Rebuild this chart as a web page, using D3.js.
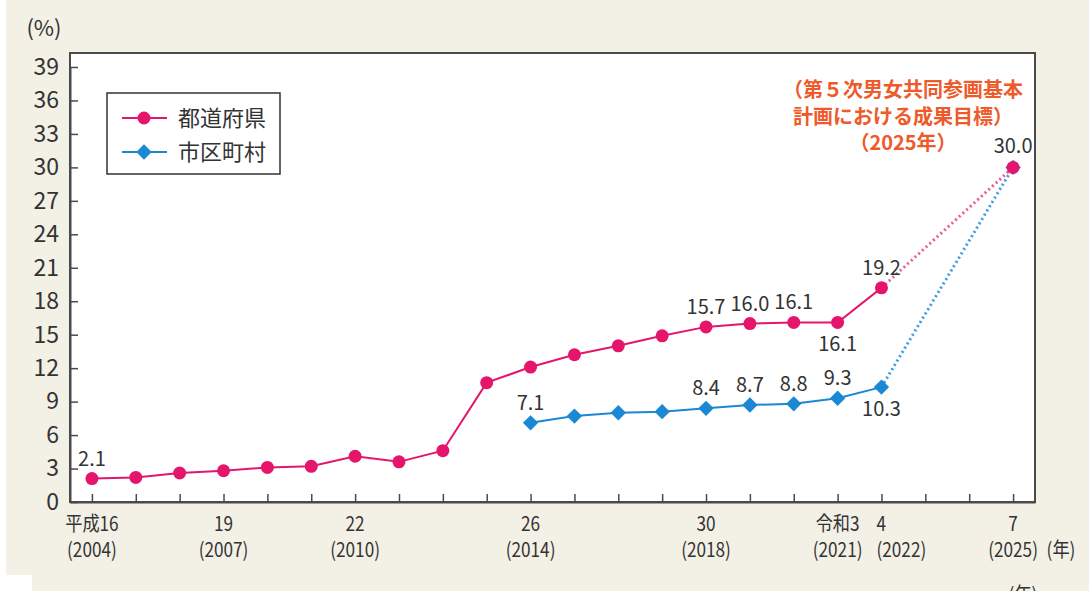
<!DOCTYPE html>
<html>
<head>
<meta charset="utf-8">
<script src="https://cdn.jsdelivr.net/npm/d3@7"></script>
<style>
  html, body { margin: 0; padding: 0; background: #fff; }
  svg { display: block; font-family: "Noto Sans CJK JP", "Noto Sans", sans-serif; }
</style>
</head>
<body>
<div id="chart"></div>
<script>
// prefectures (都道府県)
const prefYears = [2004, 2005, 2006, 2007, 2008, 2009, 2010, 2011, 2012, 2013, 2014, 2015, 2016, 2017, 2018, 2019, 2020, 2021, 2022];
const prefValues = [2.1, 2.2, 2.6, 2.8, 3.1, 3.2, 4.1, 3.6, 4.6, 10.7, 12.1, 13.2, 14.0, 14.9, 15.7, 16.0, 16.1, 16.1, 19.2];

// municipalities (市区町村)
const muniYears = [2014, 2015, 2016, 2017, 2018, 2019, 2020, 2021, 2022];
const muniValues = [7.1, 7.7, 8.0, 8.1, 8.4, 8.7, 8.8, 9.3, 10.3];

// goal
const targetYear = 2025;
const targetValue = 30.0;

const seriesNames = ["都道府県", "市区町村"];
const targetNote = ["（第５次男女共同参画基本", "計画における成果目標）", "（2025年）"];

const yTicks = [0, 3, 6, 9, 12, 15, 18, 21, 24, 27, 30, 33, 36, 39];
const xTickYears = [2004, 2005, 2006, 2007, 2008, 2009, 2010, 2011, 2012, 2013, 2014, 2015, 2016, 2017, 2018, 2019, 2020, 2021, 2022, 2023, 2024, 2025];
const xLabelYears = [2004, 2007, 2010, 2014, 2018, 2021, 2022, 2025];
const xLabelEra = ["平成16", "19", "22", "26", "30", "令和3", "4", "7"];
const xLabelWest = ["(2004)", "(2007)", "(2010)", "(2014)", "(2018)", "(2021)", "(2022)", "(2025)"];

// which points carry a value label
const prefLabelYears = [2004, 2018, 2019, 2020, 2021, 2022];
const muniLabelYears = [2014, 2018, 2019, 2020, 2021, 2022];

const W = 1089, H = 591;
const red = "#e5156c", blue = "#1a88d2", ink = "#333", frame = "#4a4a4a";
const font = '"Noto Sans CJK JP", "Noto Sans", sans-serif';

const svg = d3.select("#chart").append("svg")
    .attr("width", W).attr("height", H);

// page background
svg.append("rect").attr("width", W).attr("height", H).attr("fill", "#fff");
svg.append("rect").attr("x", 6).attr("y", 0).attr("width", W - 6).attr("height", 575).attr("fill", "#f3f0e6");
svg.append("rect").attr("x", 32).attr("y", 575).attr("width", W - 32).attr("height", 16).attr("fill", "#f3f0e6");

const x = d3.scaleLinear().domain([2003.5, 2025.5]).range([70, 1035]);
const y = d3.scaleLinear().domain([0, 39]).range([502, 67]);

// plot frame
svg.append("rect")
    .attr("x", 70).attr("y", 53)
    .attr("width", 1035 - 70).attr("height", 502 - 53)
    .attr("fill", "#fff")
    .attr("stroke", frame).attr("stroke-width", 2);

// y axis
const yAxis = svg.append("g")
    .attr("transform", "translate(70,0)")
    .call(d3.axisLeft(y).tickValues(yTicks).tickSizeInner(-8).tickSizeOuter(0).tickPadding(11))
    .attr("font-family", font).attr("font-size", 23);
yAxis.select(".domain").attr("stroke", frame).attr("stroke-width", 2);
yAxis.selectAll(".tick line").attr("stroke", frame).attr("stroke-width", 1.5);
yAxis.selectAll("text").attr("fill", ink);

// x axis
const xAxis = svg.append("g")
    .attr("transform", "translate(0,502)")
    .call(d3.axisBottom(x).tickValues(xTickYears).tickSizeInner(-8).tickSizeOuter(0).tickFormat(""));
xAxis.select(".domain").attr("stroke", frame).attr("stroke-width", 2);
xAxis.selectAll(".tick line").attr("stroke", frame).attr("stroke-width", 1.5);

// condensed two-line year labels
function narrowText(g, cx, cy, str, anchor) {
    g.append("text")
        .attr("transform", `translate(${cx},${cy}) scale(0.86,1)`)
        .attr("text-anchor", anchor || "middle")
        .text(str);
}
const xl = svg.append("g").attr("fill", ink).style("font-size", "20px");
xLabelYears.forEach((yr, i) => {
    // the 2022 label sits left-aligned just past its tick, as in the source
    if (yr === 2022) {
        narrowText(xl, x(yr) - 5, 531, xLabelEra[i], "start");
        narrowText(xl, x(yr) - 5, 557, xLabelWest[i], "start");
    } else {
        narrowText(xl, x(yr), 531, xLabelEra[i]);
        narrowText(xl, x(yr), 557, xLabelWest[i]);
    }
});
narrowText(xl, 1061, 557, "(年)");
narrowText(xl, 1023, 602, "(年)");

// y unit
svg.append("text").attr("x", 44).attr("y", 36).attr("text-anchor", "middle")
    .attr("fill", ink).style("font-size", "22px").text("(%)");

const pref = prefYears.map((yr, i) => ({ year: yr, value: prefValues[i] }));
const muni = muniYears.map((yr, i) => ({ year: yr, value: muniValues[i] }));
const prefLast = pref[pref.length - 1], muniLast = muni[muni.length - 1];
const target = { year: targetYear, value: targetValue };

const line = d3.line().x(d => x(d.year)).y(d => y(d.value));

// dotted projections to the goal
svg.append("path").datum([muniLast, target])
    .attr("fill", "none").attr("stroke", "#3a9ee0").attr("stroke-width", 3)
    .attr("stroke-dasharray", "2,3").attr("d", line);
svg.append("path").datum([prefLast, target])
    .attr("fill", "none").attr("stroke", "#ee5a93").attr("stroke-width", 3)
    .attr("stroke-dasharray", "2,3").attr("d", line);

// solid lines
svg.append("path").datum(muni)
    .attr("fill", "none").attr("stroke", blue).attr("stroke-width", 2).attr("d", line);
svg.append("path").datum(pref)
    .attr("fill", "none").attr("stroke", red).attr("stroke-width", 2).attr("d", line);

const diamond = d3.symbol().type(d3.symbolDiamond2).size(150);

svg.append("g").selectAll("path")
    .data(muni.concat([target]))
    .join("path")
    .attr("transform", d => `translate(${x(d.year)},${y(d.value)})`)
    .attr("d", diamond)
    .attr("fill", blue);

svg.append("g").selectAll("circle")
    .data(pref.concat([target]))
    .join("circle")
    .attr("cx", d => x(d.year)).attr("cy", d => y(d.value))
    .attr("r", 6.5)
    .attr("fill", red);

// value labels
const vl = svg.append("g").attr("fill", ink).attr("text-anchor", "middle").style("font-size", "20px");
pref.filter(d => prefLabelYears.includes(d.year)).forEach(d => {
    const below = d.year === 2021;
    vl.append("text").attr("x", x(d.year)).attr("y", y(d.value) + (below ? 29 : -13)).text(d.value.toFixed(1));
});
muni.filter(d => muniLabelYears.includes(d.year)).forEach(d => {
    const below = d.year === 2022;
    vl.append("text").attr("x", x(d.year)).attr("y", y(d.value) + (below ? 29 : -13)).text(d.value.toFixed(1));
});
vl.append("text").attr("x", x(target.year)).attr("y", y(target.value) - 14).text(target.value.toFixed(1));

// goal note
const note = svg.append("g").attr("fill", "#ee5a2a").attr("text-anchor", "middle")
    .style("font-size", "20px").style("font-weight", "bold");
targetNote.forEach((t, i) => {
    note.append("text").attr("x", 903).attr("y", 97 + i * 26.5).text(t);
});

// legend
const lg = svg.append("g");
lg.append("rect").attr("x", 107).attr("y", 93).attr("width", 173).attr("height", 81)
    .attr("fill", "#fff").attr("stroke", ink).attr("stroke-width", 1.5);
const lgColors = [red, blue];
seriesNames.forEach((name, i) => {
    const ly = 118 + i * 34;
    lg.append("line").attr("x1", 122).attr("x2", 167).attr("y1", ly).attr("y2", ly)
        .attr("stroke", lgColors[i]).attr("stroke-width", 2);
    if (i === 0) {
        lg.append("circle").attr("cx", 144).attr("cy", ly).attr("r", 6.5).attr("fill", red);
    } else {
        lg.append("path").attr("transform", `translate(144,${ly})`).attr("d", diamond).attr("fill", blue);
    }
    lg.append("text").attr("x", 178).attr("y", ly + 8).attr("fill", ink)
        .style("font-size", "22px").text(name);
});
</script>
</body>
</html>
